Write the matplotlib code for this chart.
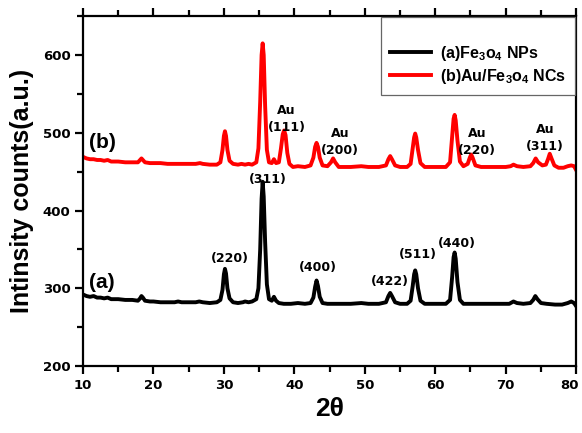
import matplotlib
matplotlib.use("Agg")
import matplotlib.pyplot as plt
from matplotlib.ticker import MultipleLocator
from matplotlib.transforms import ScaledTranslation

plt.rcParams['font.family'] = ['Liberation Sans', 'DejaVu Sans']
plt.rcParams['mathtext.fontset'] = 'custom'
plt.rcParams['mathtext.rm'] = 'Liberation Sans:bold'
plt.rcParams['mathtext.default'] = 'rm'

# (a) Fe3O4 NPs : (2theta, intensity)
a_points = [(10, 292), (10.5, 290), (11, 289), (11.5, 290), (12, 288), (12.5, 288), (13, 287), (13.5, 288),
            (14, 286), (15, 286), (16, 285), (17, 285), (17.8, 284), (18.1, 287), (18.3, 290), (18.5, 288),
            (18.8, 284), (19.5, 283), (20, 283), (21, 282), (22, 282), (23, 282), (23.5, 283), (24, 282),
            (25, 282), (26, 282), (26.5, 283), (27, 282), (28, 281), (29, 282), (29.5, 285), (29.8, 298),
            (30.0, 318), (30.15, 325), (30.3, 319), (30.5, 300), (30.8, 287), (31.3, 282), (32, 281),
            (32.7, 282), (33, 283), (33.5, 282), (34, 283), (34.6, 286), (34.9, 300), (35.15, 350),
            (35.35, 415), (35.5, 437), (35.65, 418), (35.85, 360), (36.1, 305), (36.4, 286), (36.8, 284),
            (37.1, 289), (37.4, 284), (37.8, 281), (38.5, 280), (39.5, 280), (40.5, 281), (41.5, 280),
            (42.3, 281), (42.7, 288), (42.95, 302), (43.15, 310), (43.35, 303), (43.6, 289), (44.0, 281),
            (44.7, 280), (46, 280), (47, 280), (48, 280), (49.5, 281), (50.5, 280), (52, 280), (53.0, 282),
            (53.35, 290), (53.6, 294), (53.85, 290), (54.3, 282), (55, 280), (56, 280), (56.5, 284),
            (56.8, 303), (57.0, 318), (57.15, 323), (57.3, 318), (57.55, 300), (57.9, 284), (58.5, 280),
            (60, 280), (61.5, 280), (62.1, 285), (62.4, 315), (62.6, 340), (62.75, 346), (62.9, 338),
            (63.15, 308), (63.5, 285), (64, 280), (65, 280), (67, 280), (69, 280), (70.5, 280), (71.1, 283),
            (71.6, 281), (72.5, 280), (73.5, 281), (73.9, 285), (74.2, 290), (74.5, 286), (75, 281),
            (75.8, 280), (77, 279), (78, 279), (78.8, 281), (79.3, 283), (79.7, 281), (80, 277)]

# (b) Au/Fe3O4 NCs
b_points = [(10, 469), (10.5, 467), (11, 466), (11.5, 466), (12, 465), (12.5, 465), (13, 464), (13.5, 465),
            (14, 463), (15, 463), (16, 462), (17, 462), (17.8, 462), (18.1, 465), (18.3, 467), (18.5, 465),
            (18.8, 462), (19.5, 461), (20, 461), (21, 461), (22, 460), (23, 460), (24, 460), (25, 460),
            (26, 460), (26.6, 461), (27, 460), (28, 459), (29, 459), (29.5, 462), (29.8, 478), (30.0, 496),
            (30.15, 502), (30.3, 496), (30.5, 478), (30.8, 464), (31.3, 460), (32, 459), (32.5, 460),
            (33, 459), (33.5, 460), (34, 459), (34.6, 462), (34.9, 480), (35.15, 540), (35.35, 600),
            (35.5, 615), (35.65, 600), (35.85, 535), (36.1, 478), (36.4, 462), (36.8, 461), (37.1, 466),
            (37.4, 461), (37.8, 462), (38.1, 480), (38.35, 498), (38.55, 503), (38.75, 497), (39.0, 474),
            (39.3, 460), (39.8, 456), (40.5, 457), (41.5, 456), (42.3, 458), (42.7, 468), (42.95, 482),
            (43.15, 487), (43.35, 482), (43.6, 468), (44.0, 458), (44.7, 457), (45.2, 462), (45.5, 467),
            (45.8, 462), (46.3, 456), (47, 456), (48, 456), (49.5, 457), (50.5, 456), (52, 456), (53.0, 458),
            (53.35, 466), (53.6, 470), (53.85, 466), (54.3, 458), (55, 456), (56, 456), (56.5, 460),
            (56.8, 480), (57.0, 494), (57.15, 499), (57.3, 494), (57.55, 478), (57.9, 461), (58.5, 456),
            (60, 456), (61.5, 456), (62.1, 462), (62.4, 495), (62.6, 518), (62.75, 523), (62.9, 516),
            (63.15, 490), (63.5, 463), (64, 457), (64.6, 460), (64.9, 468), (65.1, 472), (65.3, 468),
            (65.7, 458), (66.5, 456), (68, 456), (70, 456), (70.7, 457), (71.1, 459), (71.6, 457),
            (72.5, 456), (73.5, 457), (73.9, 461), (74.25, 467), (74.6, 462), (75.2, 458), (75.7, 459),
            (76.0, 466), (76.25, 473), (76.5, 467), (76.9, 458), (77.5, 455), (78.2, 455), (78.8, 457),
            (79.3, 458), (79.7, 457), (80, 452)]

series_labels = ['(a)Fe$_3$o$_4$ NPs', '(b)Au/Fe$_3$o$_4$ NCs']
series_colors = ['black', 'red']

x_ticks = [10, 20, 30, 40, 50, 60, 70, 80]
y_ticks = [200, 300, 400, 500, 600]

fe_labels = ['(220)', '(311)', '(400)', '(422)', '(511)', '(440)']
fe_pos = [(30.8, 338), (36.2, 440), (43.3, 327), (53.5, 309), (57.5, 343), (63.0, 358)]
au_labels = ['Au\n(111)', 'Au\n(200)', 'Au\n(220)', 'Au\n(311)']
au_pos = [(38.9, 518), (46.5, 488), (65.9, 488), (75.6, 493)]
curve_tags = ['(a)', '(b)']
curve_tag_pos = [(12.7, 307), (12.7, 487)]

fig = plt.figure(figsize=(5.82, 4.33), dpi=100)
ax = fig.add_axes([0.1426, 0.1547, 0.8474, 0.808])

for pts, lab, col in zip([a_points, b_points], series_labels, series_colors):
    xs, ys = zip(*pts)
    ax.plot(xs, ys, color=col, lw=2.8, label=lab, solid_joinstyle='round')

ax.set_xlim(10, 80)
ax.set_ylim(200, 650)
ax.xaxis.set_minor_locator(MultipleLocator(5))
ax.yaxis.set_minor_locator(MultipleLocator(50))
ax.set_xticks(x_ticks)
ax.set_yticks(y_ticks)
tick_font = {'family': ['DejaVu Sans'], 'weight': 'bold', 'size': 9.5}
xlabels = ax.set_xticklabels([str(v) for v in x_ticks], fontdict=tick_font)
ax.set_yticklabels([str(v) for v in y_ticks], fontdict=tick_font)
ax.tick_params(which='both', direction='out', width=1.6, top=True, right=False)
ax.tick_params(which='major', length=6, pad=3)
ax.tick_params(which='minor', length=4)
for sp in ax.spines.values():
    sp.set_linewidth(1.6)

# keep the last x tick label inside the canvas (it sits at the right edge in the reference)
xlabels[-1].set_horizontalalignment('right')
xlabels[-1].set_transform(xlabels[-1].get_transform() + ScaledTranslation(1.5 / 72, 0, fig.dpi_scale_trans))

ax.set_xlabel('2θ', fontsize=19, fontweight='bold', labelpad=4)
ax.set_ylabel('Intinsity counts(a.u.)', fontsize=18, fontweight='bold', labelpad=6)

for t, (x, y) in zip(fe_labels, fe_pos):
    ax.text(x, y, t, fontsize=9, fontweight='bold', family=['DejaVu Sans'], ha='center', va='center')
for t, (x, y) in zip(au_labels, au_pos):
    ax.text(x, y, t, fontsize=9, fontweight='bold', family=['DejaVu Sans'], ha='center', va='center',
            linespacing=1.35)
for t, (x, y) in zip(curve_tags, curve_tag_pos):
    ax.text(x, y, t, fontsize=15, fontweight='bold', ha='center', va='center')

leg = ax.legend(loc='upper right', bbox_to_anchor=(0.998, 0.997), borderaxespad=0.0,
                prop={'size': 11.5, 'weight': 'bold'},
                handlelength=2.6, handletextpad=0.55, labelspacing=0.25, fancybox=False,
                edgecolor='#666666', framealpha=1, title=' ', title_fontsize=10, borderpad=0.55)
leg.get_frame().set_linewidth(0.9)
for line in leg.get_lines():
    line.set_linewidth(2.8)

fig.savefig('out.png', dpi=100)
